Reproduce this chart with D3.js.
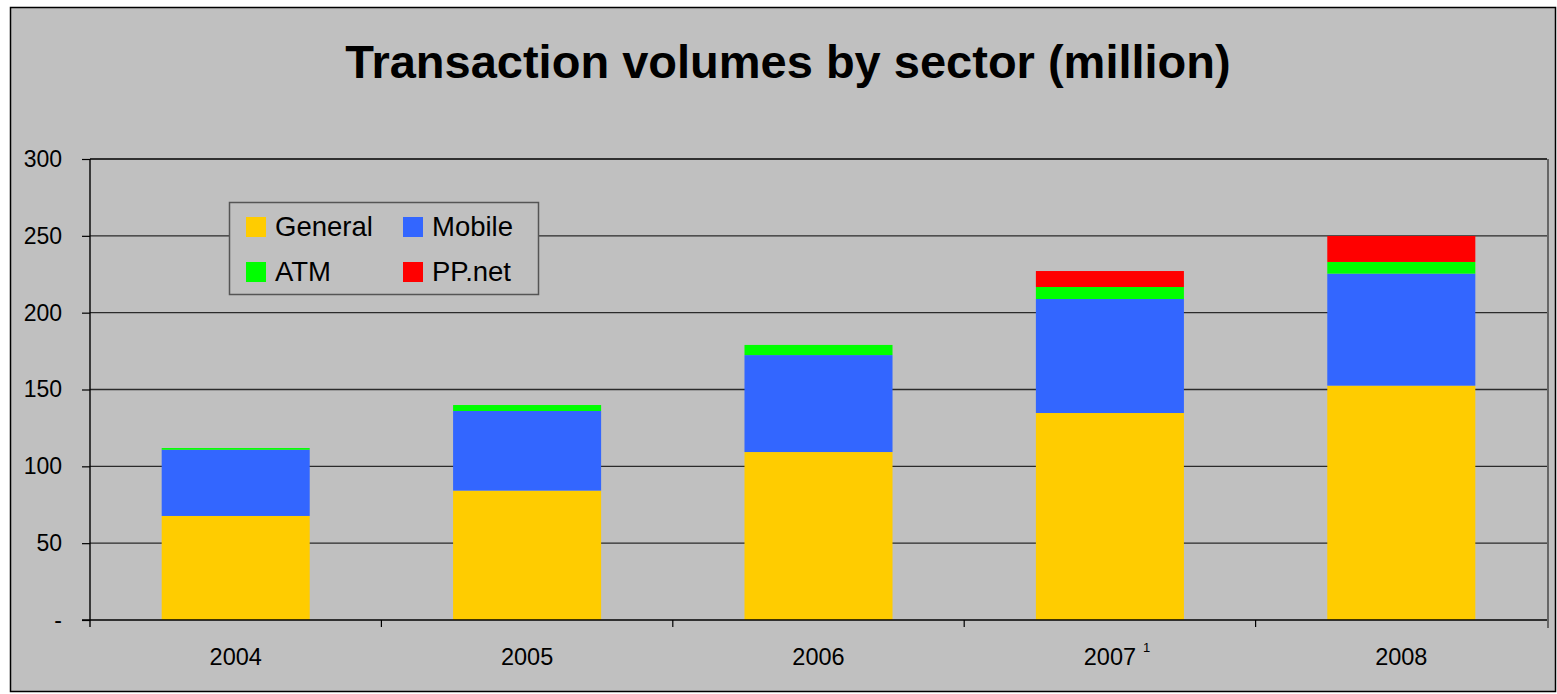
<!DOCTYPE html>
<html>
<head>
<meta charset="utf-8">
<script src="https://cdn.jsdelivr.net/npm/d3@7"></script>
<style>
  html, body { margin: 0; padding: 0; background: #ffffff; }
  svg { display: block; font-family: Arial, "Liberation Sans", sans-serif; }
</style>
</head>
<body>
<svg id="chart" width="1557" height="694"></svg>
<script>
// Transaction volumes (million) per year, stacked by sector
const years = ["2004", "2005", "2006", "2007", "2008"];
const yearNotes = ["", "", "", "1", ""];
const general = [67.7, 84.2, 109.3, 134.7, 152.5];
const mobile = [43.1, 51.8, 63.1, 74.2, 72.9];
const atm = [1.1, 3.9, 6.6, 7.8, 7.6];
const ppnet = [0, 0, 0, 10.4, 16.9];
const seriesNames = ["General", "Mobile", "ATM", "PP.net"];
const seriesColors = ["#FFCC00", "#3366FF", "#00FF00", "#FF0000"];
const yTicks = [0, 50, 100, 150, 200, 250, 300];

const svg = d3.select("#chart");
const plot = { left: 90, right: 1547, top: 159, bottom: 620 };

// chart frame
svg.append("rect").attr("x", 10.5).attr("y", 7.5).attr("width", 1545).attr("height", 684)
  .attr("fill", "#C0C0C0").attr("stroke", "#000").attr("stroke-width", 1.5);

// title
svg.append("text").attr("x", 788).attr("y", 78).attr("text-anchor", "middle")
  .attr("font-size", 47).attr("font-weight", "bold").attr("fill", "#000")
  .text("Transaction volumes by sector (million)");

const x = d3.scaleBand().domain(years).range([plot.left, plot.right]).padding(0);
const y = d3.scaleLinear().domain([0, 300]).range([plot.bottom, plot.top]);
const barW = x.bandwidth() * 0.508;

// horizontal gridlines
svg.append("g").selectAll("line").data(yTicks.filter(v => v > 0)).join("line")
  .attr("x1", plot.left).attr("x2", plot.right)
  .attr("y1", d => y(d)).attr("y2", d => y(d))
  .attr("stroke", d => d === 300 ? "#000" : "#2a2a2a").attr("stroke-width", 1.4);

// right edge of plot area
svg.append("line").attr("x1", plot.right + 1).attr("x2", plot.right + 1)
  .attr("y1", plot.top).attr("y2", plot.bottom + 8)
  .attr("stroke", "#666").attr("stroke-width", 2);

// stacked bars
const table = years.map((yr, i) => ({
  year: yr, General: general[i], Mobile: mobile[i], ATM: atm[i], "PP.net": ppnet[i]
}));
const stacked = d3.stack().keys(seriesNames)(table);
const color = d3.scaleOrdinal().domain(seriesNames).range(seriesColors);

svg.append("g").selectAll("g").data(stacked).join("g")
  .attr("fill", d => color(d.key))
  .selectAll("rect").data(d => d.filter(p => p[1] - p[0] > 0)).join("rect")
  .attr("x", d => x(d.data.year) + (x.bandwidth() - barW) / 2)
  .attr("width", barW)
  .attr("y", d => y(d[1]))
  .attr("height", d => y(d[0]) - y(d[1]));

// y axis
const yAxis = d3.axisLeft(y).tickValues(yTicks).tickSize(8).tickPadding(20)
  .tickFormat(d => d === 0 ? "-" : d3.format("d")(d));
const gy = svg.append("g").attr("transform", `translate(${plot.left},0)`).call(yAxis);
gy.select(".domain").remove();
gy.selectAll(".tick line").attr("stroke", "#000").attr("stroke-width", 1.2);
gy.selectAll(".tick text").attr("font-size", 23).attr("fill", "#000")
  .attr("font-family", "Arial, 'Liberation Sans', sans-serif");
svg.append("line").attr("x1", plot.left).attr("x2", plot.left)
  .attr("y1", plot.top).attr("y2", plot.bottom + 7)
  .attr("stroke", "#000").attr("stroke-width", 1.4);

// x axis baseline and category boundary ticks
svg.append("line").attr("x1", plot.left - 8).attr("x2", plot.right)
  .attr("y1", plot.bottom).attr("y2", plot.bottom)
  .attr("stroke", "#000").attr("stroke-width", 1.6);
svg.append("g").selectAll("line").data(years.slice(1)).join("line")
  .attr("x1", d => x(d)).attr("x2", d => x(d))
  .attr("y1", plot.bottom).attr("y2", plot.bottom + 7)
  .attr("stroke", "#000").attr("stroke-width", 1.2);

// category labels
const xl = svg.append("g").selectAll("g").data(years).join("g")
  .attr("transform", d => `translate(${x(d) + x.bandwidth() / 2},665)`);
xl.append("text").attr("text-anchor", "middle").attr("font-size", 23.5).attr("fill", "#000")
  .text(d => d);
xl.filter((d, i) => yearNotes[i] !== "").append("text")
  .attr("x", 33).attr("y", -13).attr("font-size", 13).attr("fill", "#000")
  .text(d => yearNotes[years.indexOf(d)]);

// legend
const lg = svg.append("g");
lg.append("rect").attr("x", 229.5).attr("y", 202.5).attr("width", 309).attr("height", 92)
  .attr("fill", "#C0C0C0").attr("stroke", "#555").attr("stroke-width", 1.5);
const legendPos = [[246, 217], [403, 217], [246, 262], [403, 262]];
const li = lg.selectAll("g.item").data(seriesNames).join("g").attr("class", "item")
  .attr("transform", (d, i) => `translate(${legendPos[i][0]},${legendPos[i][1]})`);
li.append("rect").attr("width", 20).attr("height", 20).attr("fill", d => color(d));
li.append("text").attr("x", 29).attr("y", 19).attr("font-size", 27.5).attr("fill", "#000")
  .text(d => d);
</script>
</body>
</html>
